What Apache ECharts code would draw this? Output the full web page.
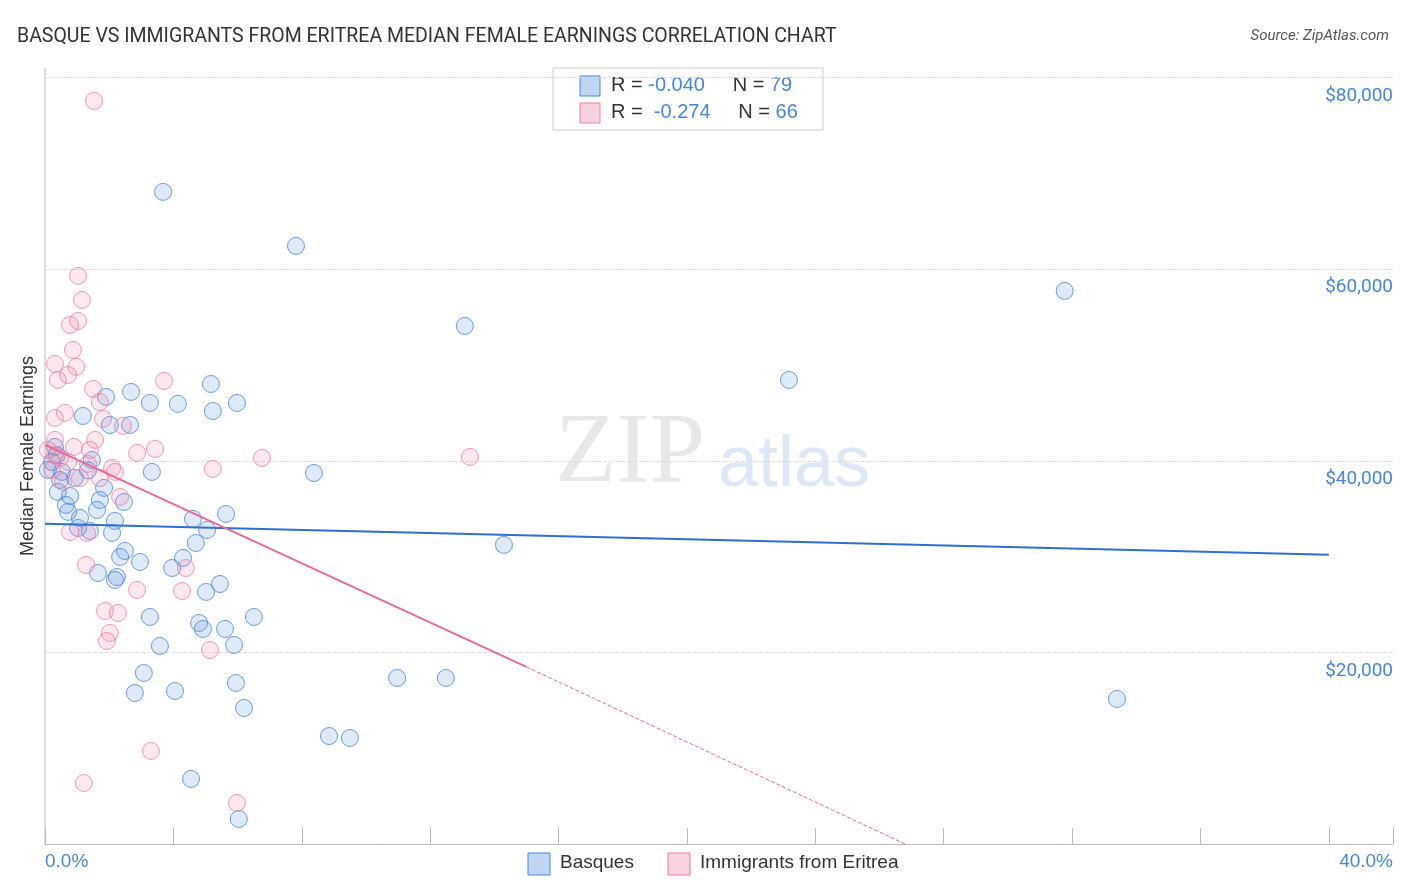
<!DOCTYPE html>
<html><head><meta charset="utf-8">
<script src="https://cdn.jsdelivr.net/npm/echarts@6/dist/echarts.min.js"></script>
<style>html,body{margin:0;padding:0;background:#fff}#chart{width:1406px;height:892px}</style>
</head><body><div id="chart"></div>
<script>
// x = share of immigrants (%), y = median female earnings ($)
const basques = [
 [3.68,68070],[7.82,62430],[13.08,54080],[31.77,57730],[23.18,48440],[2.68,47190],[5.17,48020],
 [5.98,46040],[3.27,46040],[4.14,45940],[5.23,45200],[1.90,46670],[1.18,44680],[2.02,43740],
 [2.65,43740],[3.33,38840],[8.38,38730],[1.46,40090],[0.53,38840],[0.93,38210],[0.22,39880],
 [0.31,41450],[0.09,39050],[0.40,36750],[0.78,36330],[1.71,35910],[2.46,35700],[0.72,34660],
 [1.62,34870],[1.09,34030],[1.03,32990],[2.18,33720],[2.09,32470],[1.40,32680],[5.64,34450],
 [4.61,33930],[5.05,32780],[4.70,31420],[14.30,31220],[2.49,30590],[2.34,29960],[2.96,29440],
 [4.30,29860],[3.96,28810],[1.65,28290],[2.24,27870],[2.18,27560],[5.45,27140],[5.02,26310],
 [3.27,23700],[6.51,23700],[4.80,23070],[4.92,22450],[5.61,22450],[3.58,20670],[5.89,20780],
 [3.08,17850],[5.95,16810],[2.80,15760],[4.05,15970],[10.97,17330],[12.49,17330],[33.40,15140],
 [6.20,14200],[8.85,11270],[9.50,11070],[4.55,6790],[6.04,2610],[0.47,38000],[1.34,39000],
 [0.65,35400],[1.84,37170],[0.37,40600]
];
const eritrea = [
 [1.53,77570],[1.03,59300],[1.15,56790],[1.03,54600],[0.78,54180],[0.87,51570],[0.31,50110],
 [0.97,49800],[0.72,48960],[0.40,48440],[3.71,48340],[1.50,47500],[1.71,46140],[0.62,45000],
 [0.31,44470],[1.81,44370],[2.43,43640],[0.31,42180],[0.90,41450],[1.40,41130],[3.43,41240],
 [2.87,40820],[0.31,40600],[6.76,40300],[13.24,40400],[5.23,39150],[0.72,39880],[1.34,39670],
 [2.18,38840],[1.09,38210],[1.71,38210],[0.56,37790],[2.34,36230],[0.78,32570],[1.31,32470],
 [1.28,29130],[4.39,28810],[4.27,26410],[2.87,26520],[1.87,24320],[2.27,24120],[2.02,22030],
 [1.93,21190],[5.14,20250],[3.30,9710],[1.21,6370],[5.98,4280],[0.09,41130],[0.47,40300],
 [0.22,39050],[1.56,42180],[2.09,39250]
];
const blueTrend = [[0,33420],[40,30180]];
const pinkTrend = [[0,41670],[15,18490]];
const pinkTrendDash = [[15,18490],[26.8,0]];
const yTicks = [20000,40000,60000,80000];

const blue = '#4a86d8', pink = '#ec7fa6';
const chart = echarts.init(document.getElementById('chart'));
chart.setOption({
  animation:false,
  textStyle:{fontFamily:'Roboto, "Noto Sans", sans-serif'},
  title:[{text:'BASQUE VS IMMIGRANTS FROM ERITREA MEDIAN FEMALE EARNINGS CORRELATION CHART',left:12,top:22,
    textStyle:{fontSize:19.5,fontWeight:'normal',color:'#333'}},
    {text:'Source: ZipAtlas.com',right:12,top:24,textStyle:{fontSize:15,fontStyle:'italic',fontWeight:'normal',color:'#555'}}],
  grid:{left:45,right:13,top:68,bottom:48,containLabel:false,outerBoundsMode:'none'},
  xAxis:{type:'value',min:0,max:42,interval:4,
    axisLine:{lineStyle:{color:'#bbb'}},axisTick:{inside:true,length:16,lineStyle:{color:'#bbb'}},
    axisLabel:{show:false},splitLine:{show:false}},
  yAxis:{type:'value',position:'right',min:0,max:81000,interval:20000,
    axisLine:{show:false},axisTick:{show:false},
    axisLabel:{inside:true,margin:0,align:'right',verticalAlign:'top',padding:[9,0,0,0],fontSize:19,color:blue,
      formatter:v=>yTicks.includes(v)?'$'+v.toLocaleString('en-US'):''},
    splitLine:{showMaxLine:false,showMinLine:false,lineStyle:{type:'dashed',color:'#ddd'}}},
  graphic:[
    {type:'line',shape:{x1:45,y1:68,x2:45,y2:844},style:{stroke:'#bbb',lineWidth:1}},
    {type:'text',x:28,y:456,rotation:Math.PI/2,style:{text:'Median Female Earnings',fontSize:18,fill:'#333',align:'center',verticalAlign:'middle'}},
    {type:'text',left:45,top:852,style:{text:'0.0%',fontSize:19,fill:blue}},
    {type:'text',right:13,top:852,style:{text:'40.0%',fontSize:19,fill:blue}},
    {type:'text',left:555,top:405,z:0,style:{text:'ZIP',fontSize:100,fontFamily:'serif',fill:'rgba(180,180,180,0.3)'}},
    {type:'text',left:718,top:430,z:0,style:{text:'atlas',fontSize:72,fill:'rgba(120,160,220,0.25)'}},
    {type:'rect',shape:{x:553,y:68,width:270,height:62},style:{fill:'#fff',stroke:'#ccc'}},
    {type:'rect',shape:{x:580,y:76,width:20,height:20},style:{fill:'rgba(74,134,216,0.35)',stroke:blue}},
    {type:'rect',shape:{x:580,y:103,width:20,height:20},style:{fill:'rgba(236,127,166,0.35)',stroke:pink}},
    {type:'text',left:611,top:75,style:{rich:{a:{fontSize:20,fill:'#333'},b:{fontSize:20,fill:blue}},
      text:'{a|R = }{b|-0.040}{a|     N = }{b|79}'}},
    {type:'text',left:611,top:102,style:{rich:{a:{fontSize:20,fill:'#333'},b:{fontSize:20,fill:blue}},
      text:'{a|R =  }{b|-0.274}{a|     N = }{b|66}'}},
    {type:'rect',shape:{x:528,y:853,width:22,height:22},style:{fill:'rgba(74,134,216,0.35)',stroke:blue}},
    {type:'text',left:560,top:853,style:{text:'Basques',fontSize:19,fill:'#333'}},
    {type:'rect',shape:{x:668,y:853,width:22,height:22},style:{fill:'rgba(236,127,166,0.35)',stroke:pink}},
    {type:'text',left:700,top:853,style:{text:'Immigrants from Eritrea',fontSize:19,fill:'#333'}}
  ],
  series:[
    {type:'scatter',data:basques,symbolSize:17,itemStyle:{color:'rgba(74,134,216,0.22)',borderColor:blue,borderWidth:1}},
    {type:'scatter',data:eritrea,symbolSize:17,itemStyle:{color:'rgba(236,127,166,0.22)',borderColor:pink,borderWidth:1}},
    {type:'line',data:blueTrend,symbol:'none',lineStyle:{color:'#2f6fd0',width:2}},
    {type:'line',data:pinkTrend,symbol:'none',lineStyle:{color:'#e8699a',width:2}},
    {type:'line',data:pinkTrendDash,symbol:'none',lineStyle:{color:'#e8699a',width:1,type:'dashed'}}
  ]
});
</script></body></html>
